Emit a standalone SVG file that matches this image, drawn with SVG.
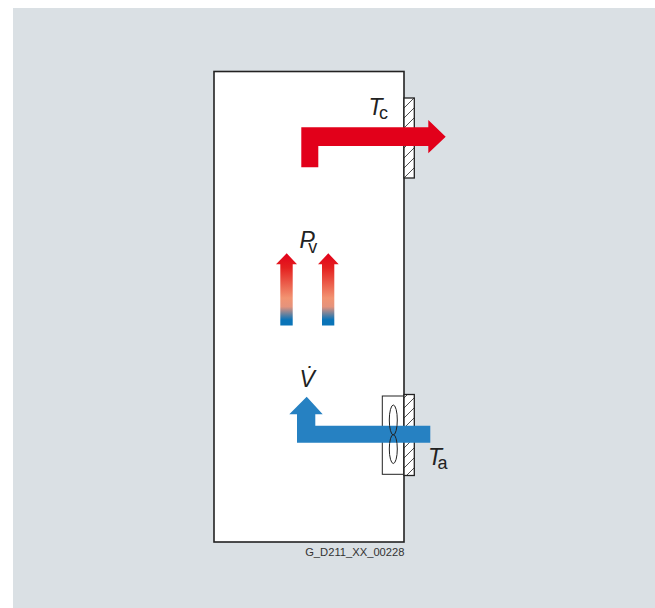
<svg xmlns="http://www.w3.org/2000/svg" width="655" height="608" viewBox="0 0 655 608">
<style>
.ln{fill:none;stroke:#222;stroke-width:1}
.pl{fill:url(#hatch);stroke:#222;stroke-width:1.3}
.sym{font-family:"Liberation Sans",Arial,sans-serif;font-style:italic;font-size:23px;fill:#222}
.sub{font-style:normal;font-size:18px}
.code{font-family:"Liberation Sans",Arial,sans-serif;font-size:11.2px;fill:#333}
</style>
<defs>
<pattern id="hatch" patternUnits="userSpaceOnUse" width="10" height="10" patternTransform="translate(404 98)">
<rect width="10" height="10" fill="#fff"/>
<path d="M-1 11L11 -1M-1 1L1 -1M9 11L11 9" stroke="#222" stroke-width="0.8" fill="none"/>
</pattern>
<linearGradient id="heat" x1="0" y1="0" x2="0" y2="1">
<stop offset="0" stop-color="#e2001a"/>
<stop offset="0.2" stop-color="#e4201f"/>
<stop offset="0.62" stop-color="#f29472"/>
<stop offset="0.74" stop-color="#e5937c"/>
<stop offset="0.92" stop-color="#0a74b8"/>
<stop offset="1" stop-color="#0a74b8"/>
</linearGradient>
</defs>
<rect width="655" height="608" fill="#fff"/>
<rect x="13" y="8" width="642" height="600" fill="#dae0e4"/>
<g id="cabinet"><rect x="214" y="71.5" width="190" height="470.5" fill="#fff" stroke="#222" stroke-width="1.6"/></g>
<g id="wall-top"><rect class="pl" x="404" y="98" width="10.3" height="80"/></g>
<g id="wall-bottom"><rect class="pl" x="404" y="394.5" width="10.3" height="81"/></g>
<g id="fan-box"><rect x="382.3" y="396" width="21.3" height="78.3" fill="#fff" stroke="#222" stroke-width="1"/></g>
<g id="connectors">
<path id="heat-out" d="M301.3 127.3H428.3V120L445.7 136.7L428.3 153.3V146H318.3V167.3H301.3Z" fill="#e2001a"/>
<path id="loss-left" d="M286.7 253.3L297 264.3H292.7V325.5H280.3V264.3H276Z" fill="url(#heat)"/>
<path id="loss-right" d="M328.3 253.3L338.7 264.3H334.3V325.5H322V264.3H318Z" fill="url(#heat)"/>
<path id="air-in" d="M306.7 396.7L322.7 414.3H315.3V425.7H430.3V442.7H297V414.3H289.3Z" fill="#2681c2"/>
</g>
<g id="fan">
<ellipse class="ln" cx="393.3" cy="420" rx="4" ry="15"/>
<ellipse class="ln" cx="393.3" cy="449" rx="4" ry="14.5"/>
</g>
<g id="label-tc"><text class="sym" x="368.5" y="115">T<tspan class="sub" dx="-3.5" dy="3.5">c</tspan></text></g>
<g id="label-pv"><text class="sym" x="299.5" y="247.5">P<tspan class="sub" dx="-6.5" dy="5">v</tspan></text></g>
<g id="label-v"><text class="sym" x="299.5" y="386.5">V̇</text></g>
<g id="label-ta"><text class="sym" x="428" y="465">T<tspan class="sub" dx="-4.5" dy="3.5">a</tspan></text></g>
<g id="code"><text class="code" x="404.5" y="556" text-anchor="end">G_D211_XX_00228</text></g>
</svg>
